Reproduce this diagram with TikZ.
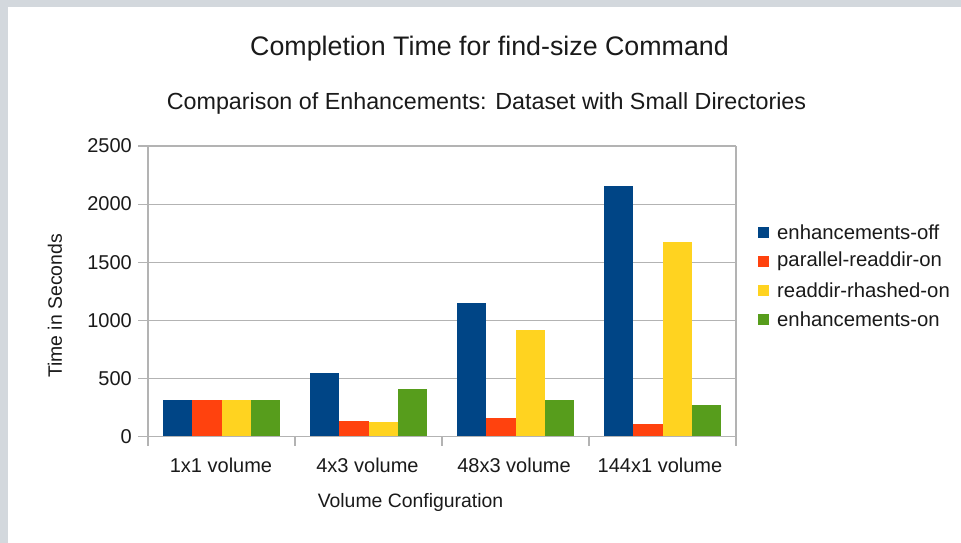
\documentclass[tikz,border=0pt]{standalone}
\usepackage{fontspec}
\setmainfont{Liberation Sans}
\definecolor{pagegray}{HTML}{D3D8DD}
\definecolor{gridgray}{HTML}{B3B3B3}
\definecolor{inkgray}{HTML}{1A1A1A}
\definecolor{serA}{HTML}{004586}
\definecolor{serB}{HTML}{FF420E}
\definecolor{serC}{HTML}{FFD320}
\definecolor{serD}{HTML}{579D1C}
\newcommand{\valY}[1]{436.5-0.1162*#1}
\begin{document}
\begin{tikzpicture}[x=1pt,y=-1pt,
  every node/.style={text=inkgray},
  gridline/.style={draw=gridgray,line width=1.1pt},
  ticklabel/.style={font=\fontsize{20}{20}\selectfont,inner sep=0pt},
  axistitle/.style={font=\fontsize{19.4}{19.4}\selectfont,inner sep=0pt},
  legendtext/.style={font=\fontsize{20.3}{20.3}\selectfont,inner sep=0pt,anchor=west},
  barA/.style={fill=serA},barB/.style={fill=serB},
  barC/.style={fill=serC},barD/.style={fill=serD}]
\useasboundingbox (0,0) rectangle (961,543);
% page background and white chart panel
\fill[pagegray] (0,0) rectangle (961,543);
\fill[white] (8,7) rectangle (961,543);

% titles
\node[font=\fontsize{26.8}{26.8}\selectfont,inner sep=0pt] (title) at (489.5,48.5) {Completion Time for find-size Command};
\node[font=\fontsize{23.3}{23.3}\selectfont,inner sep=0pt] (subtitle) at (486.5,103.5) {Comparison of Enhancements: Dataset with Small Directories};

% horizontal grid and y tick labels
\foreach \v in {0,500,...,2500}{
  \draw[gridline] (138,{\valY{\v}}) -- (736,{\valY{\v}});
  \node[ticklabel,anchor=east] (ylab\v) at (132,{\valY{\v}}) {\v};
}
% vertical axis lines and category ticks
\foreach \i in {0,...,4}{
  \draw[gridline] ({148+147*\i},436.5) -- ({148+147*\i},446);
}
\draw[gridline] (148,{\valY{2500}}) -- (148,446);
\draw[gridline] (736,{\valY{2500}}) -- (736,446);

% bars: one series per colour
\foreach \c/\va/\vb/\vc/\vd in {0/310/310/310/310, 1/549/130/127/406, 2/1146/155/920/312, 3/2156/105/1676/271}{
  \pgfmathsetmacro{\gx}{148+147*\c+15}
  \fill[barA] (\gx,436.5) rectangle ({\gx+29.25},{\valY{\va}});
  \fill[barB] ({\gx+29.25},436.5) rectangle ({\gx+58.5},{\valY{\vb}});
  \fill[barC] ({\gx+58.5},436.5) rectangle ({\gx+87.75},{\valY{\vc}});
  \fill[barD] ({\gx+87.75},436.5) rectangle ({\gx+117},{\valY{\vd}});
}
% redraw the zero line over the bars
\draw[gridline] (138,436.5) -- (736,436.5);

% category labels
\node[ticklabel] (xlab1) at (221,465) {1x1 volume};
\node[ticklabel] (xlab2) at (367.5,465) {4x3 volume};
\node[ticklabel] (xlab3) at (514,465) {48x3 volume};
\node[ticklabel] (xlab4) at (660,465) {144x1 volume};

% axis titles
\node[axistitle] (xtitle) at (410.5,502) {Volume Configuration};
\node[axistitle,rotate=90] (ytitle) at (55,306) {Time in Seconds};

% legend
\foreach \k/\yy/\lab in {A/232/enhancements-off, B/261/parallel-readdir-on, C/290/readdir-rhashed-on, D/319/enhancements-on}{
  \fill[bar\k] (758,{\yy-5.5}) rectangle (769,{\yy+5.5});
  \node[legendtext] (leg\k) at (777,\yy) {\lab};
}
\end{tikzpicture}
\end{document}
